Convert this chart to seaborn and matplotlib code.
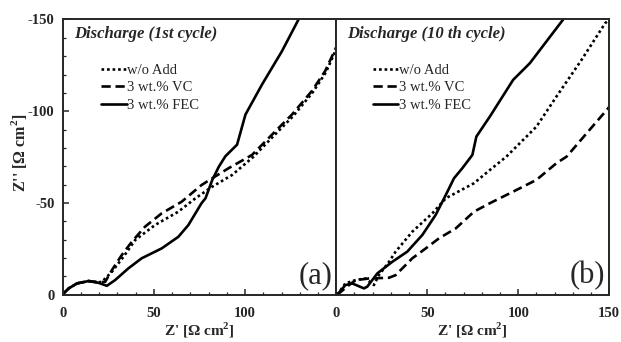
import matplotlib.pyplot as plt
import matplotlib.lines as mlines
from matplotlib.ticker import MultipleLocator
import pandas as pd
import seaborn as sns

# Nyquist data: Z' and -Z'' in ohm cm2
# panel (a): 1st cycle
a_fec_x = [0.5, 3.3, 7.8, 14.2, 19.7, 24.2, 28.7, 36, 43.3, 54.3, 63.4, 68.9, 76.1, 78.3, 82, 85.6, 89.2, 95.6, 100.2, 109.3, 120.2, 129.3]
a_fec_y = [0.8, 3.5, 6.2, 7.5, 6.5, 4.9, 8, 14.4, 19.9, 25.3, 31.6, 38, 49.9, 52.6, 62.6, 69.8, 75.5, 81.8, 98.2, 114.6, 132.7, 150]
a_vc_x = [0.5, 3.3, 7.8, 14.2, 19.7, 23.3, 27, 32.4, 37.9, 45.1, 54.3, 65.2, 76.1, 82, 91, 103.8, 114.8, 125.7, 136.6, 143.9, 148.4, 150]
a_vc_y = [0.8, 3.5, 6.2, 7.5, 6.8, 7.1, 13.5, 21.7, 28.9, 37.1, 44.4, 50.7, 59.8, 63.5, 69, 76.2, 87.3, 98.2, 111, 121.9, 131.5, 135]
a_wo_x = [0.5, 3.3, 7.8, 14.2, 19.7, 21.5, 27, 33.3, 39.7, 50.6, 63.4, 72.8, 82, 92.9, 104.7, 115.5, 126.3, 137, 144.3, 148.7, 150]
a_wo_y = [0.8, 3.5, 6.2, 7.5, 6.8, 7.1, 12.6, 20.7, 29.8, 38, 45.3, 52.6, 58.9, 65.3, 75.3, 86.4, 97.3, 110.2, 121.2, 131, 134]

# panel (b): 10th cycle
b_fec_x = [0.5, 5, 8.8, 15.2, 17, 22.6, 30.8, 39, 47.3, 54.6, 60.2, 64.7, 69.3, 74.8, 77, 84.4, 97.2, 106.4, 124.7]
b_fec_y = [0, 5.3, 6.2, 3.5, 4.4, 11.7, 18, 23.5, 32.6, 43.5, 54.4, 63.5, 69, 76.2, 86.2, 97.1, 117.1, 126.2, 150]
b_vc_x = [0.5, 7, 10.6, 18, 29, 32.6, 36.3, 41.8, 49.2, 56.5, 65.7, 75.7, 84.4, 97.2, 110, 121, 126.6, 137.6, 149.5, 150]
b_vc_y = [0, 5.3, 8, 8.9, 9.3, 10.7, 14.4, 19.9, 25.3, 30.8, 36.2, 45.3, 49.9, 56.2, 62.6, 71.7, 75.3, 88, 101.7, 102.5]
b_wo_x = [0.5, 5, 10.6, 16, 20.7, 23.4, 29, 32.6, 41.8, 52.8, 60.2, 75.7, 84.4, 93.5, 110, 121, 134.8, 147.8, 150]
b_wo_y = [0, 6.2, 8, 8.9, 5.3, 10.7, 18, 23.5, 34.4, 44.4, 52.6, 60.8, 68, 75.3, 91.6, 108, 128, 148, 150]

series = ["w/o Add", "3 wt.% VC", "3 wt.% FEC"]
titles = ["Discharge (1st cycle)", "Discharge (10 th cycle)"]
tags = ["(a)", "(b)"]


def make_frame(wo, vc, fec):
    rows = []
    for name, (xs, ys) in zip(series, [wo, vc, fec]):
        for x, y in zip(xs, ys):
            rows.append({"series": name, "Zre": x, "Zim": -y})
    return pd.DataFrame(rows)


frames = [
    make_frame((a_wo_x, a_wo_y), (a_vc_x, a_vc_y), (a_fec_x, a_fec_y)),
    make_frame((b_wo_x, b_wo_y), (b_vc_x, b_vc_y), (b_fec_x, b_fec_y)),
]

sns.set_style("ticks")
plt.rcParams["font.family"] = ["Liberation Serif", "DejaVu Serif"]
plt.rcParams["mathtext.fontset"] = "custom"
plt.rcParams["mathtext.rm"] = "Liberation Serif"
plt.rcParams["mathtext.bf"] = "Liberation Serif:bold"
plt.rcParams["axes.unicode_minus"] = False

styles = {"w/o Add": (0, (1, 1.1)), "3 wt.% VC": (0, (3.5, 1.8)), "3 wt.% FEC": "-"}

fig = plt.figure(figsize=(6.21, 3.42), dpi=100)
ax_a = fig.add_axes([0.1010, 0.138, 0.4405, 0.805])
ax_b = fig.add_axes([0.5415, 0.138, 0.4395, 0.805])
legend_x = [0.14, 0.133]

for k, (ax, df) in enumerate(zip([ax_a, ax_b], frames)):
    for name in series:
        sub = df[df["series"] == name]
        sns.lineplot(data=sub, x="Zre", y="Zim", sort=False, estimator=None,
                     color="black", linewidth=1.9, linestyle=styles[name],
                     ax=ax, legend=False)
    ax.set_xlim(0, 150)
    ax.set_ylim(0, -150)
    ax.xaxis.set_major_locator(MultipleLocator(50))
    ax.xaxis.set_minor_locator(MultipleLocator(10))
    ax.yaxis.set_major_locator(MultipleLocator(50))
    ax.yaxis.set_minor_locator(MultipleLocator(10))
    ax.tick_params(which="both", direction="in", top=False, right=False, pad=6)
    ax.tick_params(axis="x", which="both", pad=9)
    ax.tick_params(which="major", length=4, width=1.1)
    ax.tick_params(which="minor", length=2.5, width=0.9)
    for s in ax.spines.values():
        s.set_linewidth(1.4)
    ax.set_xlabel("Z' [Ω cm$^\\mathbf{2}$]", fontsize=11, fontweight="bold", labelpad=0)
    ax.text(0.04, 0.975, titles[k], transform=ax.transAxes, fontsize=12,
            fontweight="bold", fontstyle="italic", va="top", ha="left")
    ax.text(0.985, 0.015, tags[k], transform=ax.transAxes, fontsize=22,
            va="bottom", ha="right")
    handles = [mlines.Line2D([], [], color="black", linewidth=1.9, linestyle=styles[n]) for n in series]
    ax.legend(handles, series, frameon=False, fontsize=10.5, handlelength=1.75,
              handletextpad=0.05, labelspacing=0.3, loc="upper left",
              borderpad=0, borderaxespad=0, bbox_to_anchor=(legend_x[k], 0.84))

ax_a.set_xticks([0, 50, 100, 150])
ax_a.set_xticklabels(["0", "50", "100", ""])
ax_a.set_ylabel("Z'' [Ω cm$^\\mathbf{2}$]", fontsize=11.5, fontweight="bold")
ax_a.yaxis.set_label_coords(-0.125, 0.515)
ax_b.set_ylabel("")
ax_b.tick_params(axis="y", which="both", left=False, labelleft=False)

for ax in [ax_a, ax_b]:
    for lab in ax.get_xticklabels() + ax.get_yticklabels():
        lab.set_fontweight("bold")
        lab.set_fontsize(10.5)

fig.savefig("out.png", dpi=100)
